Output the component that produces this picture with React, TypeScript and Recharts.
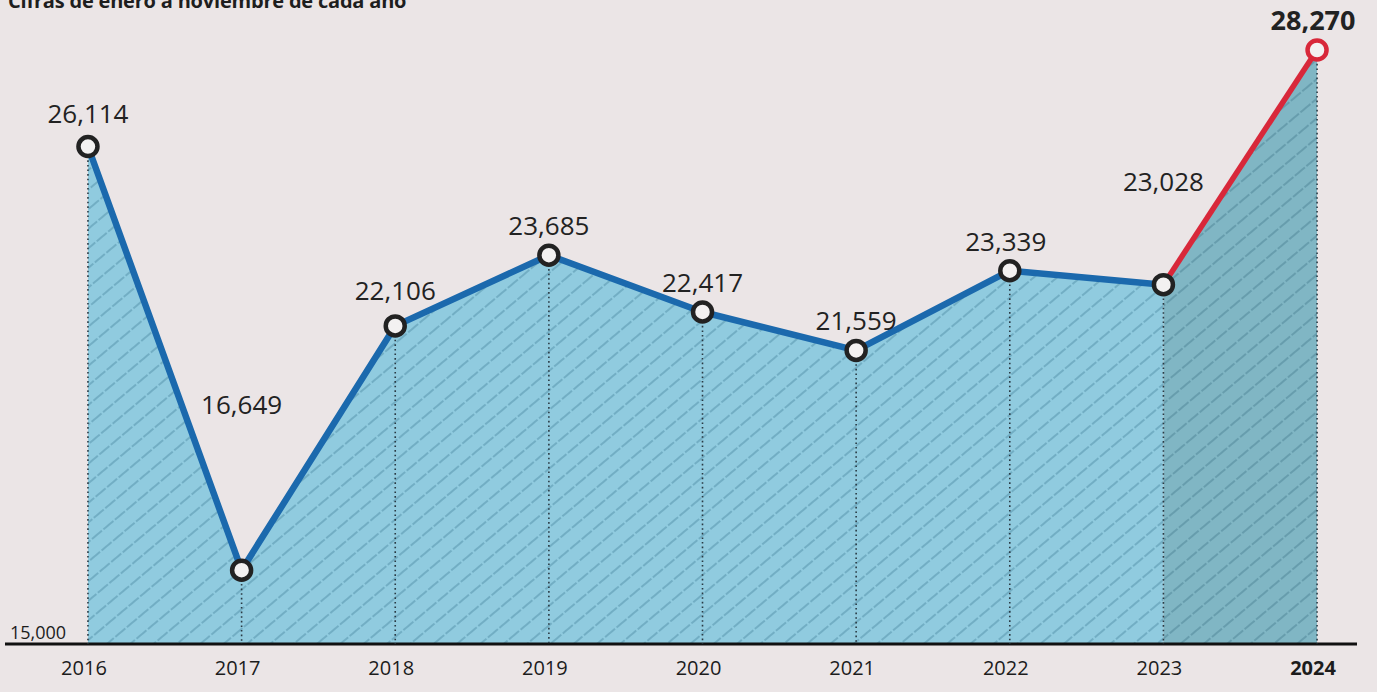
import {
  Area,
  ComposedChart,
  LabelList,
  Line,
  ReferenceLine,
  XAxis,
  YAxis,
} from "recharts";

// Cifras de enero a noviembre de cada año
const years = [2016, 2017, 2018, 2019, 2020, 2021, 2022, 2023, 2024];
const values = [26114, 16649, 22106, 23685, 22417, 21559, 23339, 23028, 28270];
const baseValue = 15000;

// último tramo (2023 -> 2024) va en rojo
const splitIndex = 7;

const rows = years.map((year, i) => ({
  year,
  value: values[i],
  main: i <= splitIndex ? values[i] : null,
  last: i >= splitIndex ? values[i] : null,
}));

const W = 1377;
const H = 692;
const M = { top: 50, right: 20, bottom: 8, left: 5 };
const AXIS_H = 40;
const plotBottom = H - M.bottom - AXIS_H;

const FONT = "'Open Sans', 'Noto Sans', sans-serif";
const BLUE = "#1b69ad";
const RED = "#d8283a";

// cuánto sube cada etiqueta respecto al punto
const labelLift: Record<number, number> = { 2016: 24, 2017: 156, 2018: 26, 2023: 94, 2024: 20 };
const labelShift: Record<number, number> = { 2022: -4, 2024: -4 };

function fmt(v: number) {
  return v.toLocaleString("en-US");
}

function YearTick(props: any) {
  const { x, y, payload } = props;
  const bold = payload.value === years[years.length - 1];
  return (
    <text
      x={x - 4}
      y={y + 29}
      textAnchor="middle"
      fontSize={20}
      fontWeight={bold ? 700 : 400}
      fill="#1c1c1c"
      fontFamily={FONT}
    >
      {payload.value}
    </text>
  );
}

function PointDot(props: any) {
  const { cx, cy, index } = props;
  if (cx == null || cy == null) return <g key={`d${index}`} />;
  const last = index === values.length - 1;
  return (
    <g key={`d${index}`}>
      <line
        x1={cx}
        x2={cx}
        y1={cy}
        y2={plotBottom}
        stroke="#2a3a44"
        strokeWidth={1.6}
        strokeDasharray="1.6 3"
      />
      <circle
        cx={cx}
        cy={cy}
        r={9.5}
        fill="#f3f1f1"
        stroke={last ? RED : "#222"}
        strokeWidth={4.5}
      />
    </g>
  );
}

function ValueLabel(props: any) {
  const { x, y, index } = props;
  const year = years[index];
  const last = index === values.length - 1;
  const lift = labelLift[year] ?? 20;
  return (
    <text
      x={x + (labelShift[year] ?? 0)}
      y={y - lift}
      textAnchor="middle"
      fontSize={last ? 27 : 26}
      fontWeight={last ? 700 : 400}
      fill="#222"
      fontFamily={FONT}
    >
      {fmt(values[index])}
    </text>
  );
}

export default function App() {
  return (
    <div
      style={{
        position: "absolute",
        left: 0,
        top: 0,
        width: W,
        height: H,
        overflow: "hidden",
        background: "#ebe5e6",
      }}
    >
      <div
        style={{
          position: "absolute",
          left: 8,
          top: -9,
          fontFamily: FONT,
          fontWeight: 700,
          fontSize: 20,
          lineHeight: "20px",
          color: "#1e1e1e",
          letterSpacing: -0.2,
          whiteSpace: "nowrap",
        }}
      >
        Cifras de enero a noviembre de cada año
      </div>
      <ComposedChart width={W} height={H} data={rows} margin={M}>
        <defs>
          <pattern
            id="hatchLight"
            patternUnits="userSpaceOnUse"
            width={15}
            height={15}
            patternTransform="rotate(-40)"
          >
            <rect width={15} height={15} fill="#90cbdf" />
            <line x1={0} x2={15} y1={7} y2={7} stroke="#3f7d97" strokeWidth={1.1} strokeOpacity={0.75} strokeDasharray="7 2" />
          </pattern>
          <pattern
            id="hatchDark"
            patternUnits="userSpaceOnUse"
            width={15}
            height={15}
            patternTransform="rotate(-40)"
          >
            <rect width={15} height={15} fill="#80b6c4" />
            <line x1={0} x2={15} y1={7} y2={7} stroke="#3c7488" strokeWidth={1.1} strokeOpacity={0.75} strokeDasharray="7 2" />
          </pattern>
        </defs>
        <XAxis
          dataKey="year"
          type="number"
          domain={[2015.46, 2024.26]}
          ticks={years}
          height={AXIS_H}
          tickLine={false}
          tickSize={0}
          axisLine={{ stroke: "#111", strokeWidth: 3 }}
          tick={<YearTick />}
        />
        <YAxis hide domain={[baseValue, 28270]} />
        <Area
          dataKey="main"
          baseValue={baseValue}
          fill="url(#hatchLight)"
          fillOpacity={1}
          stroke="none"
          isAnimationActive={false}
          dot={false}
          activeDot={false}
        />
        <Area
          dataKey="last"
          baseValue={baseValue}
          fill="url(#hatchDark)"
          fillOpacity={1}
          stroke="none"
          isAnimationActive={false}
          dot={false}
          activeDot={false}
        />
        <ReferenceLine
          y={baseValue}
          stroke="none"
          label={{
            value: fmt(baseValue),
            position: "insideBottomLeft",
            offset: 5,
            fontSize: 18,
            fill: "#1c1c1c",
            fontFamily: FONT,
          }}
        />
        <Line
          dataKey="main"
          stroke={BLUE}
          strokeWidth={6.5}
          strokeLinejoin="round"
          dot={false}
          activeDot={false}
          isAnimationActive={false}
        />
        <Line
          dataKey="last"
          stroke={RED}
          strokeWidth={5.5}
          strokeLinejoin="round"
          dot={false}
          activeDot={false}
          isAnimationActive={false}
        />
        <Line
          dataKey="value"
          stroke="none"
          dot={PointDot}
          activeDot={false}
          isAnimationActive={false}
        >
          <LabelList dataKey="value" content={ValueLabel} />
        </Line>
      </ComposedChart>
    </div>
  );
}
